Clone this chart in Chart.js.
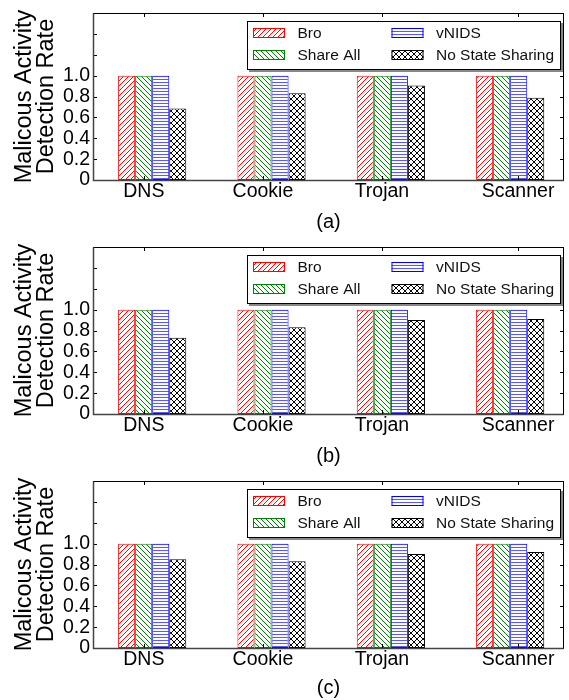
<!DOCTYPE html>
<html>
<head>
<meta charset="utf-8">
<script src="https://cdn.jsdelivr.net/npm/chart.js@4.4.1/dist/chart.umd.min.js"></script>
<style>
  body { margin: 0; background: #fff; }
  canvas { display: block; }
</style>
</head>
<body>
<canvas id="chartA" width="569" height="234"></canvas>
<canvas id="chartB" width="569" height="234"></canvas>
<canvas id="chartC" width="569" height="232"></canvas>
<script>
const categories = ["DNS", "Cookie", "Trojan", "Scanner"];
const seriesNames = ["Bro", "Share All", "vNIDS", "No State Sharing"];
const broRate = [1.0, 1.0, 1.0, 1.0];
const shareAllRate = [1.0, 1.0, 1.0, 1.0];
const vnidsRate = [1.0, 1.0, 1.0, 1.0];
const noShareA = [0.685, 0.83, 0.905, 0.787];
const noShareB = [0.73, 0.83, 0.90, 0.91];
const noShareC = [0.85, 0.83, 0.90, 0.92];
const panelNames = ["(a)", "(b)", "(c)"];

// layout bits
const FONT = "'Liberation Sans', Arial, sans-serif";
const seriesColors = ["#ff0000", "#008000", "#0000ff", "#000000"];
const hatchKinds = ["/", "\\", "-", "x"];
const xMin = -0.496, xMax = 3.451;
const xTickPos = [-0.07, 0.928, 1.925, 3.066];

function makeHatch(color, kind) {
  const s = kind === "-" ? 3 : (kind === "x" ? 6 : 5);
  const c = document.createElement("canvas");
  c.width = s; c.height = s;
  const g = c.getContext("2d");
  g.fillStyle = "#fff";
  g.fillRect(0, 0, s, s);
  g.strokeStyle = color;
  g.lineWidth = 1;
  g.beginPath();
  if (kind === "-") {
    g.globalAlpha = 0.65;
    g.moveTo(0, 1.5); g.lineTo(s, 1.5);
  }
  if (kind === "/" || kind === "x") {
    g.moveTo(-1, s + 1); g.lineTo(s + 1, -1);
    g.moveTo(-1, 1); g.lineTo(1, -1);
    g.moveTo(s - 1, s + 1); g.lineTo(s + 1, s - 1);
  }
  if (kind === "\\" || kind === "x") {
    g.moveTo(-1, -1); g.lineTo(s + 1, s + 1);
    g.moveTo(s - 1, -1); g.lineTo(s + 1, 1);
    g.moveTo(-1, s - 1); g.lineTo(1, s + 1);
  }
  g.stroke();
  return g.createPattern(c, "repeat");
}

const patterns = seriesColors.map((c, i) => makeHatch(c, hatchKinds[i]));

// frame, inward ticks and the boxed legend
const panelDecor = {
  id: "panelDecor",
  afterDraw(chart) {
    const { ctx, chartArea: a, scales: { x, y } } = chart;
    ctx.save();
    ctx.strokeStyle = "#000";
    ctx.lineWidth = 1;
    ctx.beginPath();
    y.ticks.forEach(t => {
      const py = Math.round(y.getPixelForValue(t.value)) + 0.5;
      ctx.moveTo(a.left, py); ctx.lineTo(a.left + 4, py);
      ctx.moveTo(a.right, py); ctx.lineTo(a.right - 4, py);
    });
    x.ticks.forEach(t => {
      const px = Math.round(x.getPixelForValue(t.value)) + 0.5;
      ctx.moveTo(px, a.top); ctx.lineTo(px, a.top + 4);
      ctx.moveTo(px, a.bottom); ctx.lineTo(px, a.bottom - 4);
    });
    ctx.stroke();

    const L = Math.round(a.left) + 0.5, R = Math.round(a.right) - 0.5;
    const T = Math.round(a.top) + 0.5, B = Math.round(a.bottom) + 0.5;
    ctx.beginPath();
    ctx.moveTo(L, T); ctx.lineTo(R, T); ctx.lineTo(R, B);
    ctx.stroke();
    ctx.strokeStyle = "#444";
    ctx.lineWidth = 1.5;
    ctx.beginPath();
    ctx.moveTo(L, T); ctx.lineTo(L, B); ctx.lineTo(R, B);
    ctx.stroke();

    // legend box
    const bx = Math.round(a.right) - 317, by = Math.round(a.top) + 8, bw = 314, bh = 49;
    ctx.fillStyle = "#888";
    ctx.fillRect(bx + 2, by + 2, bw, bh);
    ctx.fillStyle = "#fff";
    ctx.fillRect(bx, by, bw, bh);
    ctx.strokeStyle = "#000";
    ctx.lineWidth = 1;
    ctx.strokeRect(bx + 0.5, by + 0.5, bw - 1, bh - 1);

    ctx.font = "15.5px " + FONT;
    ctx.textBaseline = "middle";
    chart.data.datasets.forEach((ds, i) => {
      const col = Math.floor(i / 2), row = i % 2;
      const sx = bx + 6 + col * 138.5;
      const sy = by + 12 + row * 22;
      ctx.fillStyle = ds.backgroundColor;
      ctx.fillRect(sx, sy - 5, 32, 10);
      ctx.strokeStyle = ds.borderColor;
      ctx.strokeRect(sx + 0.5, sy - 4.5, 31, 9);
      ctx.fillStyle = "#111";
      ctx.fillText(ds.label, sx + 44.5, sy + 0.5);
    });
    ctx.restore();
  }
};

function makeChart(id, noShare, panelName) {
  const canvas = document.getElementById(id);
  const h = canvas.height;
  const seriesData = [broRate, shareAllRate, vnidsRate, noShare];
  return new Chart(canvas, {
    type: "bar",
    data: {
      datasets: seriesNames.map((name, i) => ({
        label: name,
        data: seriesData[i].map((v, k) => ({ x: k, y: v })),
        backgroundColor: patterns[i],
        borderColor: seriesColors[i],
        borderWidth: 1,
        borderSkipped: false,
        categoryPercentage: 0.573,
        barPercentage: 1.0,
      })),
    },
    options: {
      responsive: false,
      animation: false,
      events: [],
      layout: { padding: { top: 13, right: 5, left: 0, bottom: 0 } },
      plugins: { legend: { display: false }, tooltip: { enabled: false } },
      scales: {
        x: {
          type: "linear",
          min: xMin,
          max: xMax,
          bounds: "data",
          offset: false,
          grid: { display: false, drawTicks: false },
          border: { display: false },
          afterBuildTicks: s => { s.ticks = xTickPos.map(v => ({ value: v })); },
          afterFit: s => { s.height = h - 180; },
          ticks: {
            autoSkip: false,
            maxRotation: 0,
            padding: 2,
            color: "#000",
            font: { family: FONT, size: 19.5, lineHeight: 1 },
            callback: (v, i) => categories[i],
          },
          title: {
            display: true,
            text: panelName,
            color: "#000",
            font: { family: FONT, size: 20, lineHeight: 1.2 },
            padding: 0,
          },
        },
        y: {
          min: 0,
          max: 1.6,
          grid: { display: false, drawTicks: false },
          border: { display: false },
          afterFit: s => { s.width = 93; },
          ticks: {
            stepSize: 0.2,
            autoSkip: false,
            padding: 3,
            color: "#000",
            font: { family: FONT, size: 19.5, lineHeight: 1 },
            callback: v => v > 1.01 ? "" : (v < 0.01 ? "0" : v.toFixed(1)),
          },
          title: {
            display: true,
            text: ["Malicous Activity", "Detection Rate"],
            color: "#000",
            font: { family: FONT, size: 23.5, lineHeight: 0.95 },
            padding: { top: 13, bottom: 0 },
          },
        },
      },
    },
    plugins: [panelDecor],
  });
}

makeChart("chartA", noShareA, panelNames[0]);
makeChart("chartB", noShareB, panelNames[1]);
makeChart("chartC", noShareC, panelNames[2]);
</script>
</body>
</html>
